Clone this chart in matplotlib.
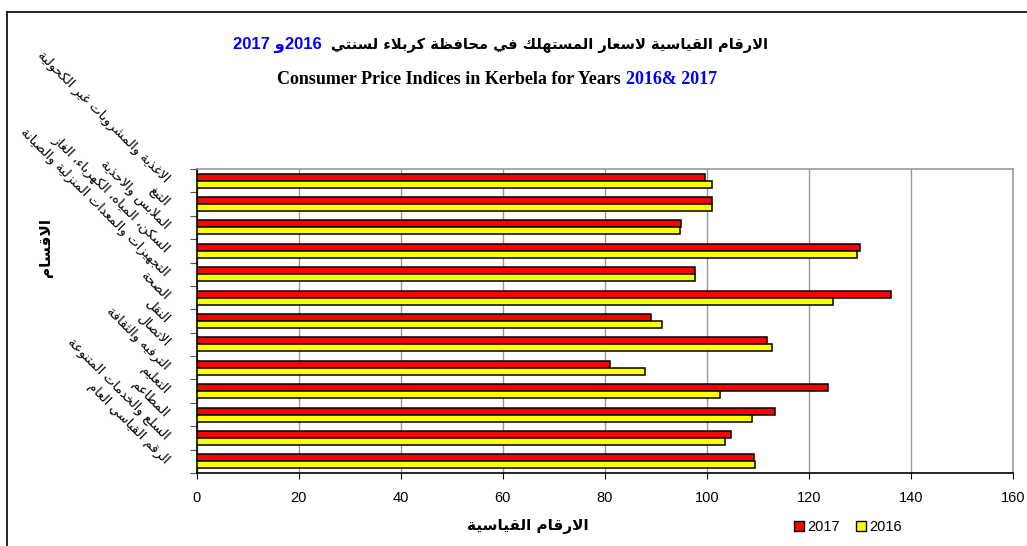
"""Consumer price indices in Kerbela, 2016 vs 2017 (horizontal grouped bars)."""
import re
import numpy as np
import matplotlib
matplotlib.use("Agg")
import matplotlib.pyplot as plt
from matplotlib.patches import Patch
from matplotlib.lines import Line2D

# ── data ───────────────────────────────────────────────────────────────────
categories = [
    "الاغذية والمشروبات غير الكحولية",
    "التبغ",
    "الملابس والاحذية",
    "السكن، المياه، الكهرباء، الغاز",
    "التجهيزات والمعدات المنزلية والصيانة",
    "الصحة",
    "النقل",
    "الاتصال",
    "الترفيه والثقافة",
    "التعليم",
    "المطاعم",
    "السلع والخدمات المتنوعة",
    "الرقم القياسي العام",
]
idx_2017 = [99.7, 101.1, 95.0, 130.0, 97.6, 136.0, 89.0, 111.7, 81.0, 123.8, 113.4, 104.7, 109.2]
idx_2016 = [101.0, 101.1, 94.7, 129.4, 97.7, 124.8, 91.3, 112.8, 87.9, 102.5, 108.9, 103.5, 109.4]
xticks = [0, 20, 40, 60, 80, 100, 120, 140, 160]

title_ar = "الارقام القياسية لاسعار المستهلك في محافظة كربلاء لسنتي"
title_ar_years = "2016و 2017"
title_en = "Consumer Price Indices in Kerbela for Years "
title_en_years = "2016& 2017"
xlabel_ar = "الارقام القياسية"
ylabel_ar = "الاقسام"

# ── tiny Arabic shaper (matplotlib has no bidi / joining) ─────────────────
AR_FORMS = {
    'ء': (0xFE80, 1), 'آ': (0xFE81, 2), 'أ': (0xFE83, 2), 'ؤ': (0xFE85, 2), 'إ': (0xFE87, 2),
    'ئ': (0xFE89, 4), 'ا': (0xFE8D, 2), 'ب': (0xFE8F, 4), 'ة': (0xFE93, 2), 'ت': (0xFE95, 4),
    'ث': (0xFE99, 4), 'ج': (0xFE9D, 4), 'ح': (0xFEA1, 4), 'خ': (0xFEA5, 4), 'د': (0xFEA9, 2),
    'ذ': (0xFEAB, 2), 'ر': (0xFEAD, 2), 'ز': (0xFEAF, 2), 'س': (0xFEB1, 4), 'ش': (0xFEB5, 4),
    'ص': (0xFEB9, 4), 'ض': (0xFEBD, 4), 'ط': (0xFEC1, 4), 'ظ': (0xFEC5, 4), 'ع': (0xFEC9, 4),
    'غ': (0xFECD, 4), 'ف': (0xFED1, 4), 'ق': (0xFED5, 4), 'ك': (0xFED9, 4), 'ل': (0xFEDD, 4),
    'م': (0xFEE1, 4), 'ن': (0xFEE5, 4), 'ه': (0xFEE9, 4), 'و': (0xFEED, 2), 'ى': (0xFEEF, 2),
    'ي': (0xFEF1, 4),
}
LAM_ALEF = {'آ': 0xFEF5, 'أ': 0xFEF7, 'إ': 0xFEF9, 'ا': 0xFEFB}


def ar(text):
    toks = []
    i = 0
    while i < len(text):
        c = text[i]
        if c == 'ل' and i + 1 < len(text) and text[i + 1] in LAM_ALEF:
            toks.append((LAM_ALEF[text[i + 1]], 2))
            i += 2
        elif c in AR_FORMS:
            toks.append(AR_FORMS[c])
            i += 1
        else:
            toks.append((c, 0))
            i += 1
    out = []
    for k, (base, n) in enumerate(toks):
        if n == 0:
            out.append(base)
            continue
        prev = k > 0 and toks[k - 1][1] == 4
        nxt = n == 4 and k + 1 < len(toks) and toks[k + 1][1] >= 2
        if n == 1:
            cp = base
        elif n == 2:
            cp = base + 1 if prev else base
        else:
            cp = base + (3 if prev and nxt else 1 if prev else 2 if nxt else 0)
        out.append(chr(cp))
    vis = "".join(out)[::-1]
    return re.sub(r"[0-9A-Za-z&]+", lambda m: m.group()[::-1], vis)


AR_FONT = "DejaVu Sans"
NUM_FONT = "Liberation Sans"

# ── figure ─────────────────────────────────────────────────────────────────
W, H = 1027, 546
fig = plt.figure(figsize=(W / 100, H / 100), dpi=100)
ax = fig.add_axes([196.5 / W, 1 - 473 / H, (1013 - 196.5) / W, (473 - 169) / H])

y = np.arange(len(categories))
bh = 0.3
ax.barh(y - bh / 2, idx_2017, height=bh, color="#ff0000", edgecolor="black", lw=1.1,
        label="2017", zorder=3)
ax.barh(y + bh / 2, idx_2016, height=bh, color="#ffff00", edgecolor="black", lw=1.1,
        label="2016", zorder=3)

ax.set_xlim(0, 160)
ax.set_ylim(len(categories) - 0.5, -0.5)
ax.set_xticks(xticks)
ax.set_xticklabels([str(t) for t in xticks], fontsize=10.5, family=NUM_FONT)
ax.set_yticks(np.arange(-0.5, len(categories), 1))
ax.set_yticklabels([])
ax.tick_params(axis="x", length=4, width=0.8, pad=9, color="black")
ax.tick_params(axis="y", length=5, width=0.8, color="#555555")
ax.grid(axis="x", color="#999999", lw=1.0, zorder=0)
for s in ("top", "right"):
    ax.spines[s].set_color("#999999")
    ax.spines[s].set_linewidth(1.2)
for s in ("left", "bottom"):
    ax.spines[s].set_color("black")
    ax.spines[s].set_linewidth(1.2)

# rotated category labels
tr = ax.get_yaxis_transform()
for yi, name in zip(y, categories):
    ax.text(-0.036, yi, ar(name), transform=tr, rotation=-45, rotation_mode="anchor",
            ha="right", va="center", fontsize=9.5, family=AR_FONT, clip_on=False)

# axis titles
fig.text(45 / W, 1 - 248 / H, ar(ylabel_ar), rotation=90, ha="center", va="center",
         fontsize=11, fontweight="bold", family=AR_FONT)
fig.text(528 / W, 1 - 527 / H, ar(xlabel_ar), ha="center", va="center",
         fontsize=11, fontweight="bold", family=AR_FONT)

renderer = fig.canvas.get_renderer()

# Arabic title: black text, blue years on its left
ta = fig.text(768 / W, 1 - 45 / H, ar(title_ar), ha="right", va="center",
              fontsize=10.5, fontweight="bold", family=AR_FONT)
wa = ta.get_window_extent(renderer).width
fig.text((768 - wa - 9) / W, 1 - 45 / H, ar(title_ar_years), ha="right", va="center",
         color="#0000ff", fontsize=12, fontweight="bold", family=[NUM_FONT, AR_FONT])

# English title (two colours on one line)
t1 = fig.text(0, 1 - 80 / H, title_en, ha="left", va="center", fontsize=13,
              fontweight="bold", family="Liberation Serif")
t2 = fig.text(0, 1 - 80 / H, title_en_years, ha="left", va="center", fontsize=13,
              fontweight="bold", family="Liberation Serif", color="#0000ff")
w1 = t1.get_window_extent(renderer).width
w2 = t2.get_window_extent(renderer).width
x0 = 497 - (w1 + w2) / 2
t1.set_x(x0 / W)
t2.set_x((x0 + w1) / W)

# legend
handles = [Patch(facecolor="#ff0000", edgecolor="black", label="2017"),
           Patch(facecolor="#ffff00", edgecolor="black", label="2016")]
fig.legend(handles=handles, loc="center", bbox_to_anchor=(848 / W, 1 - 527 / H), ncol=2,
           frameon=False, handlelength=0.7, handleheight=0.7, handletextpad=0.2,
           columnspacing=1.1, prop={"family": NUM_FONT, "size": 10.5})

# outer chart border (left and top visible)
fig.add_artist(Line2D([7 / W, 7 / W], [0, 1 - 12 / H], transform=fig.transFigure,
                      color="black", lw=1.2))
fig.add_artist(Line2D([7 / W, 1], [1 - 12 / H, 1 - 12 / H], transform=fig.transFigure,
                      color="black", lw=1.2))

fig.savefig("out.png", dpi=100)
